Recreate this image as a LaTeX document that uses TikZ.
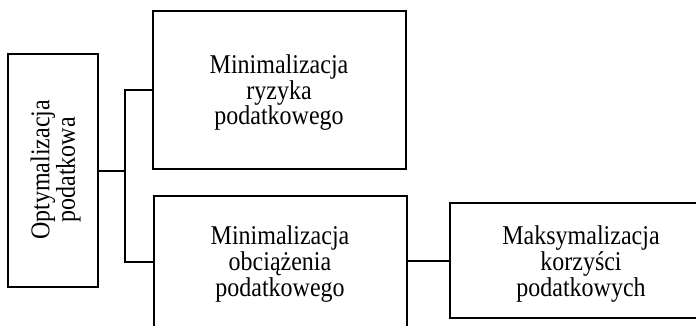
\documentclass[tikz,border=0pt]{standalone}
\usepackage{fontspec}
\usepackage{graphicx}
\setmainfont{Liberation Serif}
\newcommand{\tstack}[1]{{\fontsize{12}{10.1}\selectfont\scalebox{1}[1.13]{\begin{tabular}{@{}c@{}}#1\end{tabular}}}}
\begin{document}
\begin{tikzpicture}[x=0.5pt,y=-0.5pt,
  box/.style={draw=black,line width=1.1pt,rectangle,inner sep=0pt},
  txt/.style={inner sep=0pt,text=black},
  conn/.style={draw=black,line width=1.1pt}]
\useasboundingbox (0,0) rectangle (696,326);
% boxes
\node[box,minimum width=44.7pt,minimum height=116.5pt] (lbox) at (53,170.5) {};
\node[txt,rotate=90] (ltxt) at (56.1,170) {\tstack{Optymalizacja\\podatkowa}};
\node[box,minimum width=126.5pt,minimum height=79.3pt] (tbox) at (279.2,90) {};
\node[txt] (ttxt) at (279,93.1) {\tstack{Minimalizacja\\ryzyka\\podatkowego}};
\node[box,minimum width=126.35pt,minimum height=66pt] (bbox) at (280.35,261.7) {};
\node[txt] (btxt) at (280,264.4) {\tstack{Minimalizacja\\obciążenia\\podatkowego}};
\node[box,minimum width=131pt,minimum height=57.5pt] (rbox) at (581,260.8) {};
\node[txt] (rtxt) at (581,264.4) {\tstack{Maksymalizacja\\korzyści\\podatkowych}};
% connectors
\coordinate (j) at (125,170.7);
\draw[conn] (lbox.east |- j) -- (j);
\draw[conn] (tbox.west) -| (j) |- (bbox.west);
\draw[conn] (bbox.east |- rbox.west) -- (rbox.west);
\end{tikzpicture}
\end{document}
